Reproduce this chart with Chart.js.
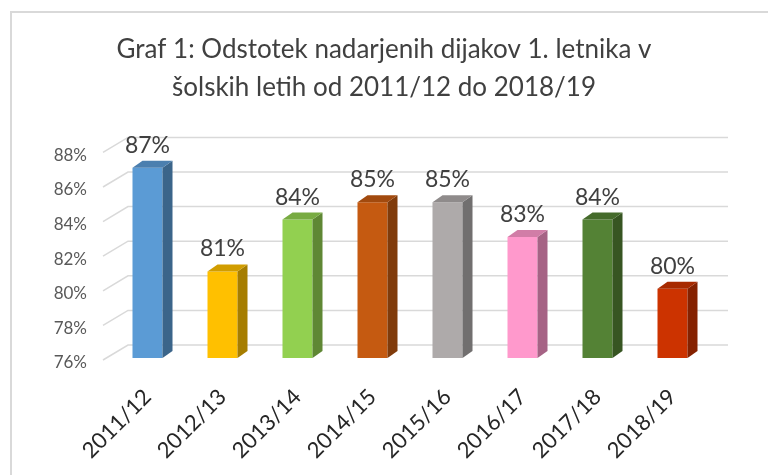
<!DOCTYPE html>
<html>
<head>
<meta charset="utf-8">
<script src="https://cdn.jsdelivr.net/npm/chart.js@4"></script>
<style>
  html, body { margin: 0; padding: 0; background: #fff; }
  #wrap { position: relative; width: 768px; height: 475px; overflow: hidden; }
  #frame {
    position: absolute; left: 10px; top: 11px; width: 800px; height: 500px;
    border-left: 2px solid #d9d9d9; border-top: 2px solid #d9d9d9;
  }
  #chart { position: absolute; left: 0; top: 0; }
</style>
</head>
<body>
<div id="wrap">
  <div id="frame"></div>
  <canvas id="chart" width="768" height="475"></canvas>
</div>
<script>
const years = ['2011/12', '2012/13', '2013/14', '2014/15', '2015/16', '2016/17', '2017/18', '2018/19'];
const percents = [87, 81, 84, 85, 85, 83, 84, 80];
const barColors = ['#5B9BD5', '#FFC000', '#92D050', '#C55A11', '#AEAAAA', '#FF99CC', '#548235', '#CC3300'];
const yTicks = [76, 78, 80, 82, 84, 86, 88];
const titleLines = ['Graf 1: Odstotek nadarjenih dijakov 1. letnika v', 'šolskih letih od 2011/12 do 2018/19'];

// 3d look
const BAR_DX = 10, BAR_DY = -7;
const WALL_DX = 18, WALL_DY = -13;

function shade(hex, f) {
  const n = parseInt(hex.slice(1), 16);
  const r = Math.round(((n >> 16) & 255) * f);
  const g = Math.round(((n >> 8) & 255) * f);
  const b = Math.round((n & 255) * f);
  return `rgb(${r}, ${g}, ${b})`;
}

const fakeThreeD = {
  id: 'fakeThreeD',
  beforeDatasetsDraw(chart) {
    const { ctx, chartArea, scales } = chart;
    ctx.save();
    ctx.strokeStyle = '#d9d9d9';
    ctx.lineWidth = 1.5;
    yTicks.forEach(v => {
      const y = scales.y.getPixelForValue(v);
      ctx.beginPath();
      ctx.moveTo(chartArea.left - 7, y + 2);
      ctx.lineTo(chartArea.left + WALL_DX, y + WALL_DY);
      ctx.lineTo(chartArea.right + WALL_DX, y + WALL_DY);
      ctx.stroke();
    });
    ctx.restore();
  },
  afterDatasetsDraw(chart) {
    const { ctx, chartArea } = chart;
    const meta = chart.getDatasetMeta(0);
    ctx.save();
    meta.data.forEach((bar, i) => {
      const { x, y, base, width } = bar.getProps(['x', 'y', 'base', 'width'], true);
      const bottom = Math.min(base, chartArea.bottom);
      const l = x - width / 2, r = x + width / 2;
      // side
      ctx.fillStyle = shade(barColors[i], 0.65);
      ctx.beginPath();
      ctx.moveTo(r, y);
      ctx.lineTo(r + BAR_DX, y + BAR_DY);
      ctx.lineTo(r + BAR_DX, bottom + BAR_DY);
      ctx.lineTo(r, bottom);
      ctx.closePath();
      ctx.fill();
      // top
      ctx.fillStyle = shade(barColors[i], 0.82);
      ctx.beginPath();
      ctx.moveTo(l, y);
      ctx.lineTo(l + BAR_DX, y + BAR_DY);
      ctx.lineTo(r + BAR_DX, y + BAR_DY);
      ctx.lineTo(r, y);
      ctx.closePath();
      ctx.fill();
      // value label
      ctx.fillStyle = '#404040';
      ctx.font = '23px Lato';
      ctx.textAlign = 'center';
      ctx.textBaseline = 'bottom';
      ctx.fillText(percents[i] + '%', x, y - 11);
    });
    ctx.restore();
  }
};

new Chart(document.getElementById('chart'), {
  type: 'bar',
  data: {
    labels: years,
    datasets: [{
      data: percents,
      backgroundColor: barColors,
      barPercentage: 0.4,
      categoryPercentage: 1
    }]
  },
  options: {
    responsive: false,
    animation: false,
    layout: { padding: 0 },
    plugins: {
      legend: { display: false },
      tooltip: { enabled: false },
      title: {
        display: true,
        text: titleLines,
        color: '#404040',
        font: { family: 'Lato', size: 26, weight: 'normal', lineHeight: 1.45 },
        padding: { top: 31, bottom: 44 }
      }
    },
    scales: {
      x: {
        grid: { display: false },
        border: { display: false },
        ticks: {
          color: '#262626',
          font: { family: 'Lato', size: 22 },
          minRotation: 45,
          maxRotation: 45,
          padding: 18
        },
        afterFit(scale) { scale.height = 117; }
      },
      y: {
        min: 76,
        max: 88,
        afterBuildTicks(scale) { scale.ticks = yTicks.map(v => ({ value: v })); },
        grid: { display: false, drawTicks: false },
        border: { display: false },
        ticks: {
          color: '#595959',
          font: { family: 'Lato', size: 17 },
          padding: 23,
          labelOffset: 5,
          callback: v => v + '%'
        },
        afterFit(scale) { scale.width = 110; }
      },
      // empty right axis, only keeps the plot narrower than the title box
      spacer: {
        position: 'right',
        grid: { display: false, drawTicks: false },
        border: { display: false },
        ticks: { display: false },
        afterFit(scale) { scale.width = 58; }
      }
    }
  },
  plugins: [fakeThreeD]
});
</script>
</body>
</html>
